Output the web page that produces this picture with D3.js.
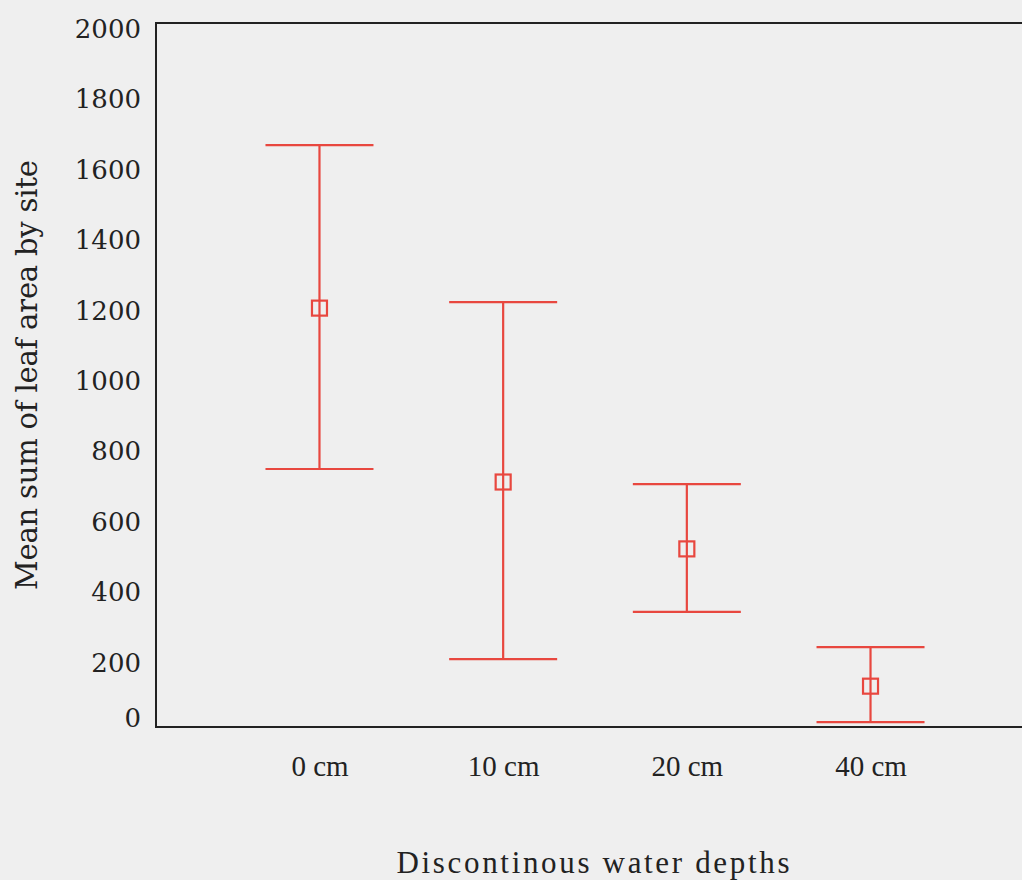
<!DOCTYPE html>
<html>
<head>
<meta charset="utf-8">
<script src="https://cdn.jsdelivr.net/npm/d3@7"></script>
<style>
  html, body { margin: 0; padding: 0; background: #efefef; }
  svg { display: block; }
</style>
</head>
<body>
<svg id="chart"></svg>
<script>
// datos
const depths = ['0 cm', '10 cm', '20 cm', '40 cm']
const meanArea = [1190, 696, 506, 116]
const lowerArea = [733, 193, 327, 14]
const upperArea = [1653, 1207, 690, 227]
const yTicks = [0, 200, 400, 600, 800, 1000, 1200, 1400, 1600, 1800, 2000]

const widthSVG = 1022
const heightSVG = 880
const plotLeft = 156, plotTop = 23, plotBottom = 727, plotRight = 1034
const rojo = '#e8473f'

const svg = d3.select('#chart')
  .attr('width', widthSVG)
  .attr('height', heightSVG)

svg.append('rect')
  .attr('width', widthSVG).attr('height', heightSVG)
  .attr('fill', '#efefef')

const xScale = d3.scalePoint()
  .domain(depths)
  .range([plotLeft, plotRight])
  .padding(0.89)

const yScale = d3.scaleLinear()
  .domain([0, 2000])
  .range([plotBottom, plotTop])

// marco
svg.append('rect')
  .attr('x', plotLeft).attr('y', plotTop)
  .attr('width', plotRight - plotLeft).attr('height', plotBottom - plotTop)
  .attr('fill', 'none')
  .attr('stroke', '#222')
  .attr('stroke-width', 2)

const yAxis = d3.axisLeft(yScale)
  .tickValues(yTicks)
  .tickFormat(d3.format('d'))
  .tickSize(0)
  .tickPadding(15)
const gy = svg.append('g')
  .attr('transform', 'translate(' + plotLeft + ',0)')
  .call(yAxis)
gy.select('.domain').remove()
gy.selectAll('text')
  .attr('font-family', 'DejaVu Serif')
  .attr('font-size', 26)
  .attr('fill', '#222')
  .attr('dy', d => d === 0 ? '-0.03em' : '0.56em')

const xAxis = d3.axisBottom(xScale).tickSize(0).tickPadding(28)
const gx = svg.append('g')
  .attr('transform', 'translate(0,' + plotBottom + ')')
  .call(xAxis)
gx.select('.domain').remove()
gx.selectAll('text')
  .attr('font-family', 'Liberation Serif')
  .attr('font-size', 29)
  .attr('fill', '#222')

// barras de error
const filas = depths.map((d, i) => ({ depth: d, mean: meanArea[i], lo: lowerArea[i], hi: upperArea[i] }))
const capW = 108
const box = 15

const barras = svg.append('g')
  .selectAll('g')
  .data(filas)
  .enter()
  .append('g')
  .attr('stroke', rojo)
  .attr('stroke-width', 2.2)
  .attr('fill', 'none')

barras.append('line')
  .attr('x1', d => xScale(d.depth)).attr('x2', d => xScale(d.depth))
  .attr('y1', d => yScale(d.lo)).attr('y2', d => yScale(d.hi))
barras.append('line')
  .attr('x1', d => xScale(d.depth) - capW / 2).attr('x2', d => xScale(d.depth) + capW / 2)
  .attr('y1', d => yScale(d.hi)).attr('y2', d => yScale(d.hi))
barras.append('line')
  .attr('x1', d => xScale(d.depth) - capW / 2).attr('x2', d => xScale(d.depth) + capW / 2)
  .attr('y1', d => yScale(d.lo)).attr('y2', d => yScale(d.lo))
barras.append('rect')
  .attr('x', d => xScale(d.depth) - box / 2)
  .attr('y', d => yScale(d.mean) - box / 2)
  .attr('width', box).attr('height', box)

// titulos de ejes
svg.append('text')
  .attr('x', 593).attr('y', 873)
  .attr('text-anchor', 'middle')
  .attr('font-family', 'Liberation Serif')
  .attr('font-size', 31)
  .attr('fill', '#222')
  .attr('textLength', 393)
  .attr('lengthAdjust', 'spacing')
  .text('Discontinous water depths')

svg.append('text')
  .attr('transform', 'translate(37,375) rotate(-90)')
  .attr('text-anchor', 'middle')
  .attr('font-family', 'DejaVu Serif')
  .attr('font-size', 29)
  .attr('fill', '#222')
  .attr('textLength', 430)
  .attr('lengthAdjust', 'spacing')
  .text('Mean sum of leaf area by site')
</script>
</body>
</html>
